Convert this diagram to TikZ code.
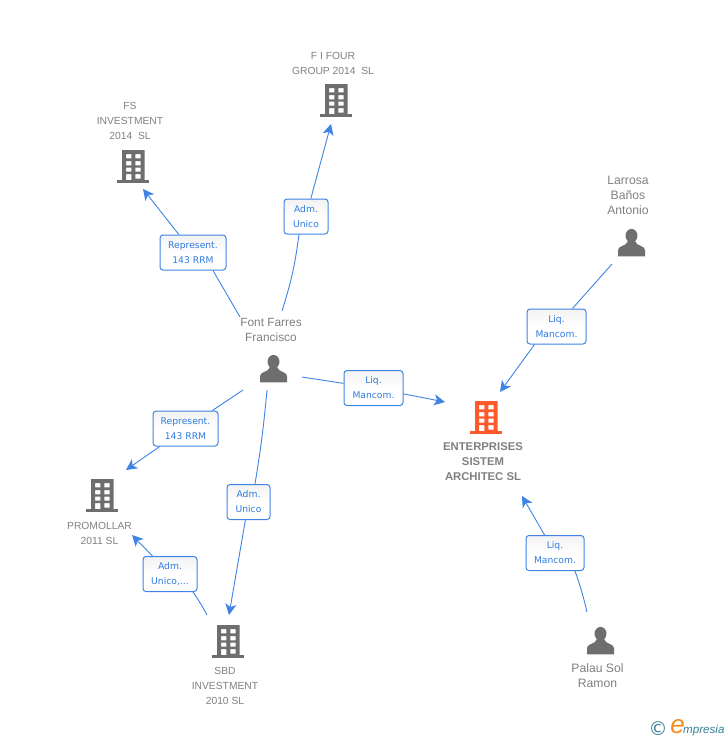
\documentclass[tikz,border=0pt]{standalone}
\usepackage{fontspec}
\setmainfont{Liberation Sans}
\newfontfamily\labfont{DejaVu Sans}
\usetikzlibrary{arrows.meta}
\definecolor{edgeblue}{HTML}{3F83E4}
\definecolor{labblue}{HTML}{2F7BE0}
\definecolor{icongrey}{HTML}{6E6E6E}
\definecolor{txtgrey}{HTML}{808080}
\definecolor{orangeicon}{HTML}{FF5A2C}
\definecolor{logoteal}{HTML}{3A7F96}
\definecolor{logoorange}{HTML}{F58A1F}
\tikzset{
  x=1pt,y=-1pt,
  rel/.style={draw=edgeblue,line width=1pt,rounded corners=3pt,top color=black!5,bottom color=white,middle color=white,
    minimum width=#1,minimum height=35pt,inner sep=0pt,align=center,text=labblue,
    font=\labfont\fontsize{9.2}{15}\selectfont},
  rel/.default=59pt,
  link/.style={draw=edgeblue,line width=0.9pt},
  tip/.style={link,-{Stealth[length=11pt,width=11pt,inset=3pt]}},
  person/.style={text=txtgrey,align=center,inner sep=0pt,font=\fontsize{12.2}{15}\selectfont},
  firm/.style={text=txtgrey,align=center,inner sep=0pt,font=\fontsize{10.3}{15}\selectfont},
  firmbold/.style={text=txtgrey,align=center,inner sep=0pt,font=\bfseries\fontsize{11.3}{15}\selectfont},
  pics/building/.style={code={
    \fill[#1,even odd rule]
      (-11,-17) rectangle (11.5,14)
      (-7,-13) rectangle (-1.7,-8.7) (2.3,-13) rectangle (7.7,-8.7)
      (-7,-5.8) rectangle (-1.7,-1.6) (2.3,-5.8) rectangle (7.7,-1.6)
      (-7,0.7) rectangle (-1.7,4.7) (2.3,0.7) rectangle (7.7,4.7)
      (-7,7) rectangle (-1.7,14) (2.3,7) rectangle (7.7,11.5);
    \fill[#1] (-16,13) rectangle (16,16);
  }},
  pics/man/.style={code={
    \fill[icongrey] (0,-7.3) circle[x radius=6,y radius=6.8];
    \fill[icongrey] (-13.5,13.3) -- (-13.5,7) .. controls (-13.5,2.5) and (-5,3.5) .. (-3.5,-2)
      -- (3.5,-2) .. controls (5,3.5) and (13.5,2.5) .. (13.5,7) -- (13.5,13.3) -- cycle;
  }},
}
\begin{document}
\begin{tikzpicture}
\useasboundingbox (0,0) rectangle (728,740);
% icons
\pic at (336,101) {building=icongrey};
\pic at (133,167) {building=icongrey};
\pic at (102,496) {building=icongrey};
\pic at (228,642) {building=icongrey};
\pic at (486,418) {building=orangeicon};
\pic at (273.5,369) {man};
\pic at (631.5,243) {man};
\pic at (600.5,641) {man};
% entity names
\node[firm] (fifour) at (333,63) {F I FOUR\\GROUP 2014\ \ SL};
\node[firm] (fs) at (130,121) {FS\\INVESTMENT\\2014\ \ SL};
\node[person] (larrosa) at (628,195) {Larrosa\\Baños\\Antonio};
\node[person,font=\fontsize{11.9}{15}\selectfont] (font) at (271,330) {Font Farres\\Francisco};
\node[firmbold] (ent) at (483,462) {ENTERPRISES\\SISTEM\\ARCHITEC SL};
\node[firm] (prom) at (99.5,533) {PROMOLLAR\\2011 SL};
\node[firm] (sbd) at (225,686) {SBD\\INVESTMENT\\2010 SL};
\node[person] (palau) at (597.5,675.5) {Palau Sol\\Ramon};
% connector labels
\node[rel=44pt] (l1) at (306,216.5) {Adm.\\Unico};
\node[rel=66pt] (l2) at (193,252.5) {Represent.\\143 RRM};
\node[rel=59pt] (l3) at (373.5,388) {Liq.\\Mancom.};
\node[rel=59pt] (l4) at (556.5,326.5) {Liq.\\Mancom.};
\node[rel=65pt] (l5) at (185.5,428.5) {Represent.\\143 RRM};
\node[rel=43pt] (l6) at (248.5,502) {Adm.\\Unico};
\node[rel=58pt] (l7) at (555,553) {Liq.\\Mancom.};
\node[rel=54pt] (l8) at (170,574) {Adm.\\Unico,...};
% free ends
\coordinate (a1) at (282,311); \coordinate (b1) at (331,124);
\coordinate (a2) at (240,317); \coordinate (b2) at (143,189);
\coordinate (a3) at (302,377); \coordinate (b3) at (445,402);
\coordinate (a4) at (612,264); \coordinate (b4) at (500,392);
\coordinate (a5) at (243,390); \coordinate (b5) at (126,470);
\coordinate (a6) at (267,390); \coordinate (b6) at (229,615);
\coordinate (a7) at (587,612); \coordinate (b7) at (522,496);
\coordinate (a8) at (207,615); \coordinate (b8) at (132,535);
% connectors
\draw[link] (a1) to[bend right=5] ([xshift=-7pt]l1.south);
\draw[tip] (l1) -- (b1);
\draw[link] (a2) -- ([xshift=20pt]l2.south);
\draw[tip] (l2) -- (b2);
\draw[link] (a3) -- (l3);
\draw[tip] (l3) -- (b3);
\draw[link] (a4) -- (l4);
\draw[tip] ([xshift=-22pt]l4.south) -- (b4);
\draw[link] (a5) -- (l5);
\draw[tip] (l5) -- (b5);
\draw[link] (a6) to[bend left=2] ([xshift=6.5pt]l6.north);
\draw[tip] (l6) -- (b6);
\draw[link] (a7) to[bend right=3] ([xshift=20pt]l7.south);
\draw[tip] (l7) -- (b7);
\draw[link] (a8) to[bend right=3] ([xshift=23pt]l8.south);
\draw[tip] (l8) -- (b8);
% logo
\node[inner sep=0pt,text=logoteal,font=\labfont\fontsize{19}{19}\selectfont] (copyr) at (658,729) {©};
\node[inner sep=0pt,text=logoorange,font=\itshape\fontsize{26}{26}\selectfont] (loge) at (677.5,727) {e};
\node[inner sep=0pt,anchor=west,text=logoteal,font=\itshape\fontsize{11.6}{12}\selectfont] (logt) at (683,730) {mpresia};
\end{tikzpicture}
\end{document}
